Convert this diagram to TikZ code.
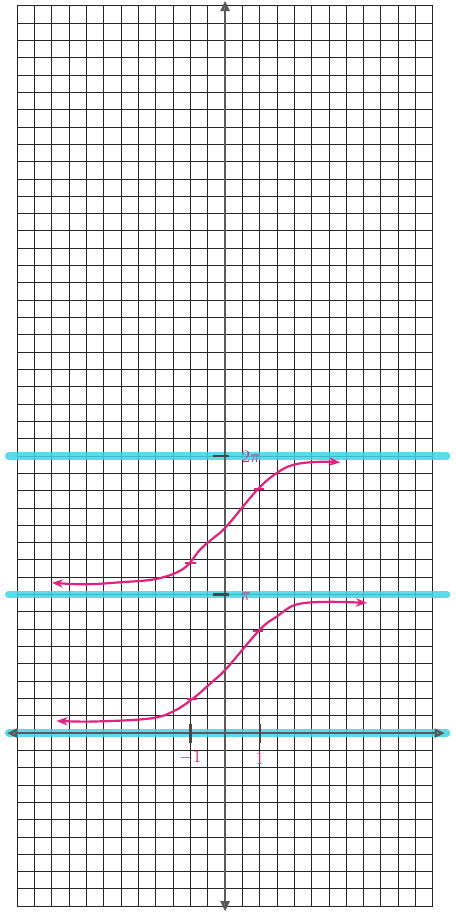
\documentclass[tikz,border=0pt]{standalone}
\usepackage{fontspec}
\usetikzlibrary{arrows.meta}
\definecolor{gridink}{HTML}{262626}
\definecolor{axisgray}{HTML}{5A5A5A}
\definecolor{asymcyan}{HTML}{3DD5E6}
\definecolor{penpink}{HTML}{E4217C}
\tikzset{gridline/.style={draw=gridink,line width=.8pt},axis/.style={draw=axisgray,line width=2pt,{Triangle[open,length=3mm,width=2.6mm]}-{Triangle[open,length=3mm,width=2.6mm]}},asym/.style={draw=asymcyan,line width=6pt,opacity=.85,line cap=round},curve/.style={draw=penpink,line width=1.8pt,{Stealth[length=3.2mm]}-{Stealth[length=3.2mm]}},tickmark/.style={draw=gridink!85,line width=2pt},penmark/.style={draw=penpink,line width=1.6pt},lbl/.style={text=penpink,font=\sffamily\fontsize{15}{16}\selectfont,inner sep=1pt}}

\begin{document}
\begin{tikzpicture}[x=0.5cm,y=0.5cm]
\useasboundingbox (-13.0,-10.62) rectangle (13.28,42.34);
% graph paper
\draw[gridline,step=1] (-12,-10) grid (12,42);
% asymptotes
\foreach \k in {0,8,16} \draw[asym] (-12.5,\k) -- (12.8,\k);
% axes
\coordinate (xl) at (-12.6,0); \coordinate (xr) at (12.7,0);
\coordinate (yb) at (0,-10.3); \coordinate (yt) at (0,42.3);
\draw[axis] (xl) -- (xr);
\draw[axis] (yb) -- (yt);
\foreach \t in {8,16} \draw[tickmark] (-0.7,\t) -- (0.2,\t);
\foreach \t in {-2,2} \draw[tickmark] (\t,-0.55) -- (\t,0.55);
% the two branches
\draw[curve] plot[smooth,tension=.6] coordinates {(-9.74,0.7) (-7.2,0.68) (-4.3,0.85) (-3.0,1.25) (-1.85,2.0) (-0.7,3.0) (0.1,3.75) (2.0,5.97) (3.0,6.74) (4.1,7.42) (5.9,7.58) (8.2,7.52)};
\draw[curve] plot[smooth,tension=.6] coordinates {(-10.0,8.68) (-8.0,8.6) (-6.07,8.71) (-3.95,8.91) (-2.4,9.5) (-1.44,10.6) (-0.77,11.19) (0.1,11.96) (1.93,14.13) (3.18,15.15) (4.14,15.54) (5.49,15.67) (6.65,15.64)};
\foreach \p in {(-1.9,1.95),(1.9,5.9),(-2.0,9.85),(1.95,14.1)} \draw[penmark] \p ++(-0.3,0) -- ++(0.6,0);
% labels
\node[lbl] (ypi) at (1.2,7.85) {$\pi$};
\node[lbl] (ytwopi) at (1.5,15.95) {$2\pi$};
\node[lbl] (xneg) at (-2.0,-1.4) {$-1$};
\node[lbl] (xpos) at (2.0,-1.5) {$1$};
\end{tikzpicture}
\end{document}
